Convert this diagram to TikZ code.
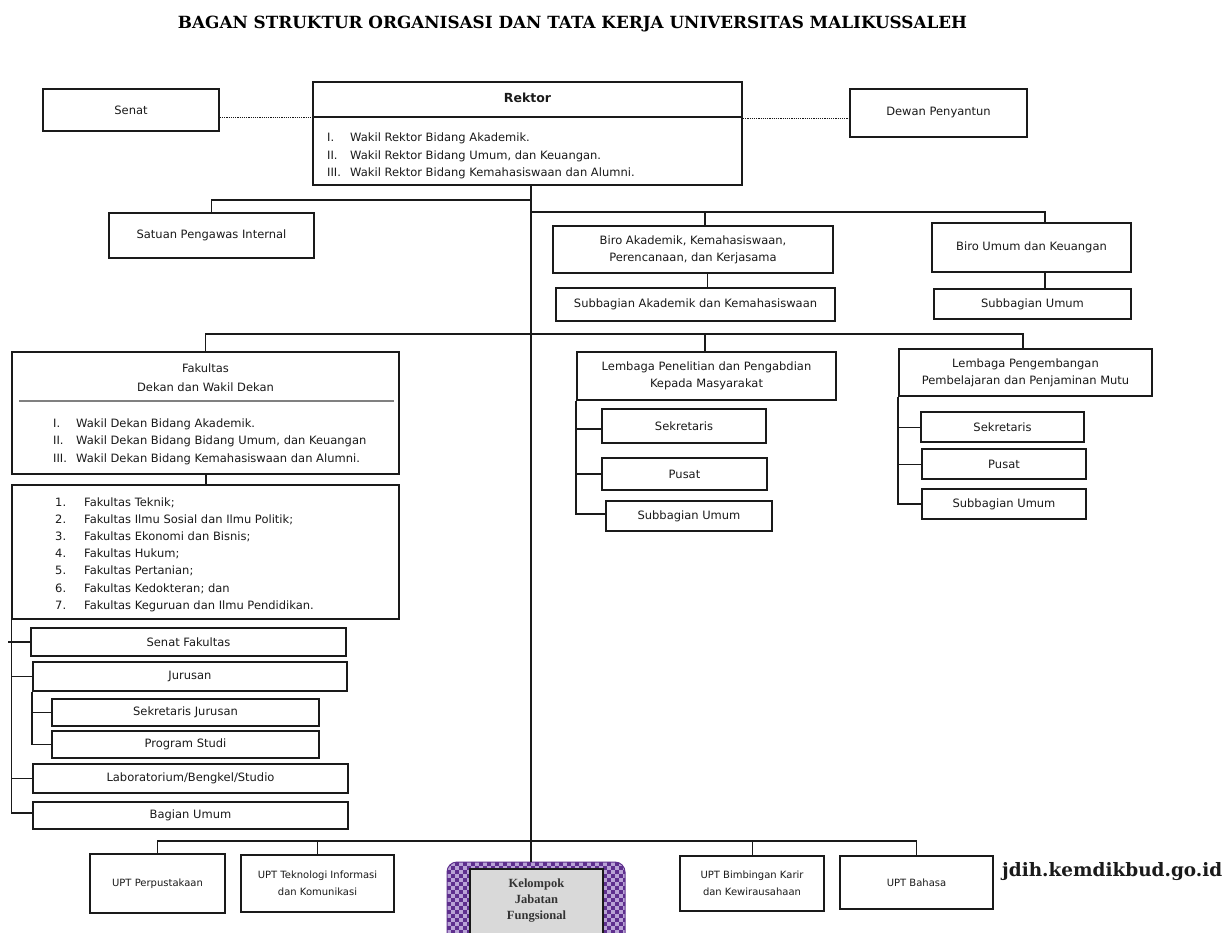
\documentclass[tikz,border=0pt]{standalone}
\usepackage{fontspec}
\usepackage{graphicx}
\setmainfont{DejaVu Sans}
\newfontfamily\titlefont{DejaVu Serif}
\newfontfamily\kelfont{Liberation Serif}
\definecolor{kdark}{HTML}{5E2F8E}
\definecolor{klight}{HTML}{B9A3D6}
\definecolor{kgrey}{HTML}{D9D9D9}
\definecolor{ink}{HTML}{1A1A1A}
\begin{document}
\begin{tikzpicture}[x=1pt,y=-1pt,
  box/.style={draw=ink, line width=1.5pt, inner sep=0pt, align=center, text=ink, font=\fontsize{11.5}{17}\selectfont},
  smallbox/.style={box, font=\fontsize{10}{17}\selectfont},
  conn/.style={draw=ink, line width=1.4pt},
  dotline/.style={draw=ink, line width=1pt, dash pattern=on 1.2pt off 1pt},
  txt/.style={inner sep=0pt, text=ink, font=\fontsize{11.5}{17}\selectfont, anchor=base west},
]
\useasboundingbox (0,0) rectangle (1225,932);
\fill[white] (0,0) rectangle (1225,932);

% title
\node[inner sep=0pt] (title) at (572.5,24.5) {\resizebox{789pt}{!}{\titlefont\bfseries BAGAN STRUKTUR ORGANISASI DAN TATA KERJA UNIVERSITAS MALIKUSSALEH}};

% bus coordinates on the main spine
\coordinate (b1) at (531,200);
\coordinate (b2) at (531,212);
\coordinate (b3) at (531,334);
\coordinate (b4) at (531,841);

% top row
\node[box, minimum width=176, minimum height=42] (senat) at (131,110) {Senat};
\node[box, line width=1.8pt, minimum width=429, minimum height=103] (rektor) at (527.5,133.5) {};
\node[inner sep=0pt, text=ink, font=\fontsize{12.5}{15}\selectfont\bfseries] (rtitle) at (527.5,98) {Rektor};
\draw[ink, line width=1.2pt] (313,117) -- (742,117);
\node[txt] (r1n) at (327,141) {I.};
\node[txt] (r1) at (350,141) {Wakil Rektor Bidang Akademik.};
\node[txt] (r2n) at (327,159) {II.};
\node[txt] (r2) at (350,159) {Wakil Rektor Bidang Umum, dan Keuangan.};
\node[txt] (r3n) at (327,176) {III.};
\node[txt] (r3) at (350,176) {Wakil Rektor Bidang Kemahasiswaan dan Alumni.};
\node[box, line width=1.3pt, minimum width=177, minimum height=48] (dewan) at (938.5,113) {Dewan Penyantun};

\draw[dotline] ([yshift=-7]senat.east) -- ([yshift=-7]senat.east -| rektor.west);
\draw[dotline] ([yshift=-5]dewan.west -| rektor.east) -- ([yshift=-5]dewan.west);

% second row
\node[box, minimum width=205, minimum height=45] (satuan) at (211.5,235.5) {Satuan Pengawas Internal};
\node[box, line width=1.3pt, minimum width=280, minimum height=47] (biroak) at (693,249.5) {Biro Akademik, Kemahasiswaan,\\Perencanaan, dan Kerjasama};
\node[box, minimum width=279, minimum height=33] (subak) at (695.5,304.5) {Subbagian Akademik dan Kemahasiswaan};
\node[box, line width=1.8pt, minimum width=199, minimum height=49] (biroum) at (1031.5,247.5) {Biro Umum dan Keuangan};
\node[box, line width=1.8pt, minimum width=197, minimum height=30] (subum) at (1032.5,304) {Subbagian Umum};

% fakultas
\node[box, line width=1.8pt, minimum width=387, minimum height=122] (fak) at (205.5,413) {};
\node[inner sep=0pt, align=center, text=ink, font=\fontsize{11.5}{19}\selectfont] (faktitle) at (205.5,377.5) {Fakultas\\Dekan dan Wakil Dekan};
\draw[gray, line width=1.3pt] (19,401) -- (394,401);
\node[txt] (f1n) at (53,427) {I.};
\node[txt] (f1) at (76,427) {Wakil Dekan Bidang Akademik.};
\node[txt] (f2n) at (53,444) {II.};
\node[txt] (f2) at (76,444) {Wakil Dekan Bidang Bidang Umum, dan Keuangan};
\node[txt] (f3n) at (53,462) {III.};
\node[txt] (f3) at (76,462) {Wakil Dekan Bidang Kemahasiswaan dan Alumni.};

\node[box, line width=1.3pt, minimum width=387, minimum height=134] (list) at (205.5,552) {};
\foreach \n/\t [count=\k from 0] in {1/{Fakultas Teknik;},2/{Fakultas Ilmu Sosial dan Ilmu Politik;},3/{Fakultas Ekonomi dan Bisnis;},4/{Fakultas Hukum;},5/{Fakultas Pertanian;},6/{Fakultas Kedokteran; dan},7/{Fakultas Keguruan dan Ilmu Pendidikan.}}{
  \node[txt] (ln\n) at (55,{506+17.2*\k}) {\n.};
  \node[txt] (lt\n) at (84,{506+17.2*\k}) {\t};
}

\node[box, line width=1.8pt, minimum width=315, minimum height=28] (senfak) at (188.5,642) {Senat Fakultas};
\node[box, line width=1.8pt, minimum width=314, minimum height=29] (jur) at (190,676.5) {Jurusan};
\node[box, line width=1.3pt, minimum width=267, minimum height=27] (sekjur) at (185.5,712.5) {Sekretaris Jurusan};
\node[box, line width=1.8pt, minimum width=267, minimum height=27] (prodi) at (185.5,744.5) {Program Studi};
\node[box, line width=1.8pt, minimum width=315, minimum height=29] (lab) at (190.5,778.5) {Laboratorium/Bengkel/Studio};
\node[box, line width=1.3pt, minimum width=315, minimum height=27] (bagum) at (190.5,815.5) {Bagian Umum};

% lembaga
\node[box, line width=1.8pt, minimum width=259, minimum height=48] (lppm) at (706.5,376) {Lembaga Penelitian dan Pengabdian\\Kepada Masyarakat};
\node[box, line width=1.8pt, minimum width=164, minimum height=34] (lsek) at (684,426) {Sekretaris};
\node[box, line width=1.8pt, minimum width=165, minimum height=32] (lpus) at (684.5,474) {Pusat};
\node[box, line width=1.8pt, minimum width=166, minimum height=30] (lsub) at (689,516) {Subbagian Umum};

\node[box, line width=1.8pt, minimum width=253, minimum height=47] (lp3m) at (1025.5,372.5) {Lembaga Pengembangan\\Pembelajaran dan Penjaminan Mutu};
\node[box, line width=1.8pt, minimum width=163, minimum height=30] (psek) at (1002.5,427) {Sekretaris};
\node[box, line width=1.8pt, minimum width=164, minimum height=30] (ppus) at (1004,464) {Pusat};
\node[box, line width=1.8pt, minimum width=164, minimum height=30] (psub) at (1004,504) {Subbagian Umum};

% bottom row
\node[smallbox, minimum width=135, minimum height=59] (upt1) at (157.5,883.5) {UPT Perpustakaan};
\node[smallbox, minimum width=153, minimum height=57] (upt2) at (317.5,883.5) {UPT Teknologi Informasi\\dan Komunikasi};
\node[smallbox, minimum width=144, minimum height=55] (upt3) at (752,883.5) {UPT Bimbingan Karir\\dan Kewirausahaan};
\node[smallbox, minimum width=153, minimum height=53] (upt4) at (916.5,882.5) {UPT Bahasa};

% kelompok jabatan fungsional
\begin{scope}
  \clip[rounded corners=10pt] (447,862) rectangle (625,952);
  \fill[klight] (447,862) rectangle (625,952);
  \foreach \i in {0,...,22}{
    \foreach \j in {0,...,11}{
      \fill[kdark] ({447+8*\i},{862+8*\j}) rectangle ++(4,4);
      \fill[kdark] ({451+8*\i},{866+8*\j}) rectangle ++(4,4);
    }
  }
\end{scope}
\node[draw=kdark, line width=1pt, rounded corners=10pt, inner sep=0pt, minimum width=178, minimum height=90] (kel) at (536,907) {};
\node[draw=ink, line width=1.5pt, fill=kgrey, inner sep=0pt, minimum width=133, minimum height=78] (kin) at (536.5,908) {};
\node[inner sep=0pt, align=center, text=black!80, font=\kelfont\bfseries\fontsize{12.5}{16}\selectfont] (ktext) at (536.5,901) {Kelompok\\Jabatan\\Fungsional};

\node[anchor=west, inner sep=0pt, text=ink] (jdih) at (1002,872) {\resizebox{220pt}{!}{\titlefont\bfseries jdih.kemdikbud.go.id}};

% connectors
\draw[conn] (rektor.south -| b1) -- (kel.north -| b1);
\draw[conn] (satuan.north) |- (b1);
\draw[conn] (b2) -| ([xshift=13.5]biroum.north);
\draw[conn] ([xshift=12]biroak.north) -- ([xshift=12]biroak.north |- b2);
\draw[conn, line width=1pt] ([xshift=14]biroak.south) -- ([xshift=14]biroak.south |- subak.north);
\draw[conn, line width=1.8pt] ([xshift=13.5]biroum.south) -- ([xshift=13.5]biroum.south |- subum.north);

\draw[conn, line width=1.1pt] (fak.north) |- (b3) -| ([xshift=-2.5]lp3m.north);
\draw[conn, line width=1.1pt] ([xshift=-1.5]lppm.north) -- ([xshift=-1.5]lppm.north |- b3);
\draw[conn, line width=2pt] (fak.south) -- (list.north);

\draw[conn] (list.south west) |- (senfak.west);
\draw[conn] ([xshift=-3]list.south west |- senfak.west) -- (senfak.west);
\draw[conn] (list.south west) |- (jur.west);
\draw[conn, line width=1pt] (list.south west) |- (lab.west);
\draw[conn] (list.south west) |- ([yshift=2.5]bagum.west);
\draw[conn, line width=1pt] (jur.south west) |- (sekjur.west);
\draw[conn] (jur.south west) |- (prodi.west);

\draw[conn] (lppm.south west) |- ([yshift=-3]lsek.west);
\draw[conn] (lppm.south west) |- (lpus.west);
\draw[conn] (lppm.south west) |- ([yshift=2]lsub.west);
\draw[conn, line width=1pt] (lp3m.south west) |- (psek.west);
\draw[conn, line width=1pt] (lp3m.south west) |- (ppus.west);
\draw[conn] (lp3m.south west) |- (psub.west);

\draw[conn] (upt1.north) |- (b4) -| (upt4.north);
\draw[conn] (upt2.north) -- (upt2.north |- b4);
\draw[conn, line width=1pt] (upt3.north) -- (upt3.north |- b4);
\end{tikzpicture}
\end{document}
